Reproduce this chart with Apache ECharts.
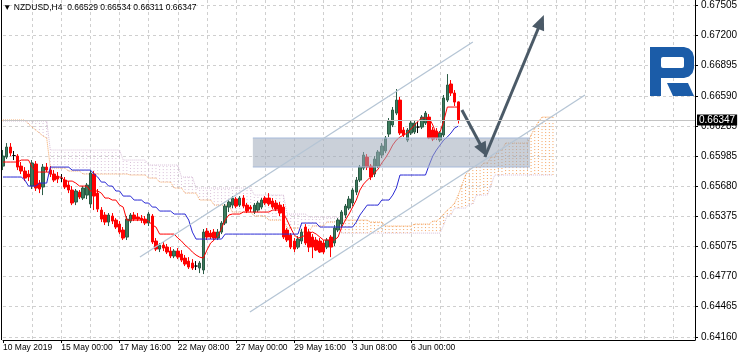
<!DOCTYPE html>
<html><head><meta charset="utf-8">
<script src="https://cdn.jsdelivr.net/npm/echarts@6/dist/echarts.min.js"></script>
<style>html,body{margin:0;padding:0;background:#fff}#c{width:742px;height:354px}</style>
</head><body><div id="c"></div>
<script>
// ---------- data ----------
const symbolName = 'NZDUSD,H4';
const xLabels = ['10 May 2019','15 May 00:00','17 May 16:00','22 May 08:00','27 May 00:00','29 May 16:00','3 Jun 08:00','6 Jun 00:00'];
const xLabelStep = 16;      // bars between time labels
const xGridStep = 8;        // bars between vertical grid lines
const slotCount = 191;      // bar slots shown on the time axis (incl. future cloud)
const yTicks = [0.64160,0.64465,0.64770,0.65075,0.65375,0.65680,0.65985,0.66285,0.66590,0.66895,0.67200,0.67505];
const yMin = 0.64130, yMax = 0.67555;

const open = [0.65882,0.65973,0.66074,0.65988,0.65983,0.65882,0.65832,0.65802,0.65681,0.65903,0.65711,0.65671,0.65872,0.65842,0.65802,0.65782,0.65761,0.65741,0.65691,0.65641,0.65520,0.65620,0.65560,0.65590,0.65500,0.65802,0.65610,0.65439,0.65389,0.65318,0.65379,0.65338,0.65298,0.65238,0.65167,0.65328,0.65389,0.65369,0.65358,0.65348,0.65308,0.65379,0.65127,0.65046,0.65086,0.65066,0.65026,0.64976,0.65026,0.64996,0.64955,0.64925,0.64905,0.64875,0.64855,0.64835,0.65227,0.65207,0.65217,0.65157,0.65217,0.65308,0.65469,0.65489,0.65550,0.65489,0.65560,0.65489,0.65469,0.65419,0.65439,0.65469,0.65560,0.65560,0.65530,0.65510,0.65489,0.65469,0.65238,0.65187,0.65127,0.65066,0.65127,0.65268,0.65217,0.65167,0.65137,0.65127,0.65107,0.65066,0.65167,0.65107,0.65238,0.65298,0.65389,0.65459,0.65510,0.65620,0.65741,0.65862,0.65973,0.65882,0.65802,0.65882,0.65993,0.66034,0.66205,0.66296,0.66416,0.66547,0.66245,0.66144,0.66215,0.66225,0.66275,0.66275,0.66316,0.66376,0.66245,0.66235,0.66144,0.66195,0.66547,0.66709,0.66618,0.66529];
const high = [0.66044,0.66114,0.66114,0.66034,0.66003,0.65923,0.65872,0.65842,0.65943,0.65933,0.65741,0.65903,0.65913,0.65882,0.65842,0.65822,0.65802,0.65772,0.65731,0.65681,0.65651,0.65641,0.65681,0.65711,0.65842,0.65832,0.65651,0.65469,0.65419,0.65409,0.65409,0.65358,0.65328,0.65268,0.65379,0.65409,0.65419,0.65409,0.65389,0.65379,0.65419,0.65399,0.65157,0.65107,0.65117,0.65097,0.65066,0.65046,0.65056,0.65036,0.64986,0.64965,0.64945,0.64925,0.64925,0.65248,0.65258,0.65238,0.65248,0.65248,0.65328,0.65500,0.65540,0.65580,0.65570,0.65580,0.65590,0.65510,0.65489,0.65510,0.65530,0.65560,0.65580,0.65610,0.65560,0.65540,0.65520,0.65500,0.65258,0.65207,0.65157,0.65177,0.65248,0.65298,0.65248,0.65197,0.65167,0.65157,0.65137,0.65157,0.65187,0.65288,0.65358,0.65439,0.65500,0.65580,0.65661,0.65772,0.65893,0.66024,0.66003,0.65903,0.65983,0.66044,0.66114,0.66185,0.66366,0.66477,0.66658,0.66578,0.66275,0.66265,0.66336,0.66346,0.66326,0.66396,0.66437,0.66406,0.66275,0.66265,0.66235,0.66598,0.66809,0.66749,0.66648,0.66534];
const low = [0.65842,0.65953,0.65983,0.65943,0.65842,0.65802,0.65731,0.65731,0.65651,0.65631,0.65610,0.65590,0.65822,0.65772,0.65721,0.65711,0.65721,0.65651,0.65610,0.65489,0.65489,0.65550,0.65540,0.65550,0.65459,0.65439,0.65419,0.65318,0.65288,0.65278,0.65298,0.65248,0.65197,0.65137,0.65137,0.65308,0.65328,0.65328,0.65308,0.65288,0.65278,0.65097,0.65026,0.65016,0.65026,0.64996,0.64955,0.64955,0.64945,0.64915,0.64875,0.64845,0.64835,0.64835,0.64804,0.64794,0.65137,0.65147,0.65137,0.65137,0.65197,0.65288,0.65419,0.65459,0.65459,0.65469,0.65459,0.65409,0.65419,0.65399,0.65419,0.65449,0.65489,0.65479,0.65449,0.65429,0.65379,0.65147,0.65117,0.65046,0.65016,0.65046,0.65097,0.65086,0.65016,0.64955,0.65026,0.65006,0.64996,0.65046,0.64965,0.65076,0.65217,0.65258,0.65358,0.65439,0.65479,0.65590,0.65721,0.65842,0.65842,0.65741,0.65772,0.65862,0.65963,0.66013,0.66175,0.66275,0.66396,0.66195,0.66175,0.66124,0.66195,0.66205,0.66215,0.66255,0.66296,0.66154,0.66134,0.66144,0.66124,0.66175,0.66527,0.66588,0.66487,0.66311];
const close = [0.65983,0.66074,0.66013,0.65988,0.65872,0.65832,0.65761,0.65772,0.65913,0.65661,0.65651,0.65872,0.65842,0.65802,0.65741,0.65751,0.65761,0.65671,0.65641,0.65510,0.65631,0.65570,0.65661,0.65691,0.65812,0.65580,0.65449,0.65348,0.65318,0.65389,0.65328,0.65268,0.65217,0.65157,0.65348,0.65389,0.65348,0.65348,0.65338,0.65308,0.65399,0.65117,0.65046,0.65086,0.65056,0.65016,0.64976,0.65026,0.64965,0.64935,0.64895,0.64865,0.64855,0.64875,0.64905,0.65217,0.65167,0.65167,0.65157,0.65217,0.65308,0.65479,0.65520,0.65560,0.65479,0.65560,0.65479,0.65429,0.65449,0.65489,0.65510,0.65540,0.65510,0.65500,0.65469,0.65449,0.65409,0.65167,0.65137,0.65066,0.65046,0.65147,0.65217,0.65107,0.65066,0.65066,0.65036,0.65016,0.65016,0.65137,0.65066,0.65258,0.65338,0.65419,0.65479,0.65550,0.65641,0.65741,0.65872,0.65993,0.65872,0.65772,0.65953,0.66024,0.66084,0.66165,0.66336,0.66447,0.66547,0.66215,0.66195,0.66245,0.66316,0.66316,0.66275,0.66376,0.66416,0.66165,0.66154,0.66165,0.66215,0.66568,0.66699,0.66618,0.66527,0.66347];

const tenkan = [0.65923,0.65923,0.65923,0.65923,0.65923,0.65943,0.65943,0.65943,0.65872,0.65822,0.65822,0.65822,0.65822,0.65822,0.65772,0.65772,0.65772,0.65731,0.65731,0.65731,0.65711,0.65681,0.65681,0.65681,0.65631,0.65631,0.65631,0.65610,0.65560,0.65560,0.65540,0.65540,0.65489,0.65469,0.65338,0.65338,0.65338,0.65338,0.65338,0.65338,0.65328,0.65288,0.65268,0.65197,0.65197,0.65197,0.65197,0.65197,0.65157,0.65127,0.65086,0.65056,0.65016,0.64986,0.64965,0.64955,0.65036,0.65107,0.65137,0.65177,0.65258,0.65338,0.65389,0.65399,0.65399,0.65399,0.65419,0.65419,0.65419,0.65419,0.65419,0.65419,0.65419,0.65419,0.65439,0.65439,0.65439,0.65409,0.65338,0.65258,0.65187,0.65157,0.65167,0.65187,0.65207,0.65217,0.65197,0.65167,0.65137,0.65137,0.65137,0.65137,0.65167,0.65268,0.65338,0.65399,0.65469,0.65540,0.65641,0.65701,0.65741,0.65772,0.65812,0.65852,0.65913,0.65963,0.66024,0.66094,0.66144,0.66175,0.66195,0.66215,0.66255,0.66296,0.66336,0.66366,0.66366,0.66366,0.66296,0.66205,0.66225,0.66336,0.66477,0.66477,0.66477,0.66477];
const kijun = [0.65772,0.65772,0.65772,0.65772,0.65772,0.65772,0.65741,0.65681,0.65681,0.65681,0.65711,0.65711,0.65711,0.65872,0.65872,0.65872,0.65872,0.65872,0.65872,0.65842,0.65842,0.65842,0.65842,0.65842,0.65842,0.65802,0.65772,0.65721,0.65721,0.65681,0.65681,0.65631,0.65631,0.65580,0.65580,0.65580,0.65540,0.65540,0.65540,0.65510,0.65510,0.65469,0.65469,0.65429,0.65429,0.65429,0.65429,0.65399,0.65399,0.65399,0.65399,0.65338,0.65217,0.65147,0.65147,0.65147,0.65147,0.65147,0.65147,0.65147,0.65147,0.65197,0.65197,0.65197,0.65197,0.65197,0.65197,0.65197,0.65197,0.65197,0.65197,0.65197,0.65197,0.65197,0.65197,0.65197,0.65197,0.65197,0.65197,0.65197,0.65197,0.65197,0.65308,0.65308,0.65308,0.65308,0.65308,0.65268,0.65268,0.65268,0.65268,0.65268,0.65268,0.65268,0.65268,0.65268,0.65268,0.65318,0.65389,0.65439,0.65489,0.65489,0.65489,0.65489,0.65540,0.65540,0.65540,0.65590,0.65661,0.65792,0.65792,0.65792,0.65792,0.65792,0.65792,0.65792,0.65792,0.65892,0.65983,0.66044,0.66094,0.66144,0.66175,0.66215,0.66265,0.66285];
const spanA = [0.66346,0.66346,0.66346,0.66346,0.66346,0.66346,0.66346,0.66306,0.66275,0.66245,0.66215,0.66185,0.66165,0.65862,0.65862,0.65862,0.65862,0.65862,0.65832,0.65832,0.65832,0.65832,0.65802,0.65802,0.65802,0.65802,0.65802,0.65802,0.65802,0.65802,0.65802,0.65802,0.65802,0.65802,0.65802,0.65792,0.65792,0.65792,0.65792,0.65792,0.65761,0.65761,0.65761,0.65721,0.65721,0.65721,0.65721,0.65661,0.65661,0.65661,0.65610,0.65610,0.65610,0.65610,0.65540,0.65540,0.65540,0.65540,0.65489,0.65489,0.65489,0.65489,0.65489,0.65419,0.65419,0.65419,0.65419,0.65419,0.65419,0.65379,0.65379,0.65379,0.65379,0.65338,0.65338,0.65338,0.65338,0.65338,0.65258,0.65258,0.65258,0.65258,0.65217,0.65217,0.65217,0.65278,0.65278,0.65278,0.65278,0.65318,0.65318,0.65318,0.65338,0.65338,0.65338,0.65338,0.65338,0.65338,0.65338,0.65338,0.65338,0.65318,0.65318,0.65318,0.65318,0.65278,0.65278,0.65278,0.65278,0.65278,0.65278,0.65278,0.65278,0.65298,0.65298,0.65298,0.65298,0.65298,0.65328,0.65328,0.65358,0.65399,0.65439,0.65469,0.65510,0.65590,0.65691,0.65792,0.65842,0.65872,0.65872,0.65872,0.65913,0.65913,0.65973,0.65973,0.66044,0.66044,0.66114,0.66114,0.66114,0.66114,0.66114,0.66114,0.66114,0.66195,0.66265,0.66326,0.66376,0.66376,0.66376,0.66376];
const spanB = [0.66336,0.66336,0.66336,0.66336,0.66336,0.66336,0.66336,0.66336,0.66336,0.66336,0.66336,0.66336,0.66336,0.66044,0.66044,0.66044,0.66044,0.66044,0.66044,0.66044,0.66044,0.66044,0.66044,0.66044,0.66044,0.66044,0.66044,0.66044,0.66044,0.66044,0.66044,0.66044,0.66044,0.65943,0.65943,0.65943,0.65943,0.65943,0.65943,0.65943,0.65893,0.65893,0.65893,0.65893,0.65893,0.65893,0.65893,0.65893,0.65893,0.65772,0.65772,0.65772,0.65772,0.65661,0.65661,0.65661,0.65661,0.65661,0.65661,0.65661,0.65661,0.65661,0.65661,0.65661,0.65661,0.65661,0.65661,0.65661,0.65661,0.65590,0.65590,0.65590,0.65590,0.65590,0.65590,0.65590,0.65590,0.65590,0.65399,0.65399,0.65399,0.65399,0.65399,0.65399,0.65369,0.65369,0.65369,0.65369,0.65369,0.65369,0.65369,0.65369,0.65369,0.65207,0.65207,0.65207,0.65207,0.65207,0.65207,0.65207,0.65207,0.65207,0.65207,0.65207,0.65207,0.65207,0.65207,0.65207,0.65207,0.65207,0.65207,0.65207,0.65207,0.65207,0.65207,0.65207,0.65207,0.65207,0.65207,0.65207,0.65207,0.65288,0.65389,0.65389,0.65459,0.65459,0.65459,0.65459,0.65500,0.65500,0.65590,0.65590,0.65590,0.65590,0.65691,0.65792,0.65792,0.65792,0.65792,0.65792,0.65792,0.65792,0.65792,0.65792,0.65792,0.65792,0.65792,0.65792,0.65792,0.65792,0.65792,0.65792];

// hand-drawn objects, in [bar, price]
const channelLines = [[[37.6,0.64966],[129.0,0.67132]], [[67.8,0.64412],[159.8,0.66598]]];
const zoneBox = [[68.6,0.66165],[144.7,0.65873]];
const arrows = [[[126.0,0.66447],[132.9,0.65974]], [[132.3,0.65974],[148.5,0.67404]]];

// ---------- chart ----------
const chart = echarts.init(document.getElementById('c'));
const slots = Array.from({length: slotCount}, (_, i) => String(i));
const candles = open.map((o, i) => [o, close[i], low[i], high[i]]);
const cloud = spanA.map((a, i) => [i, a, spanB[i]]);
const last = close.length - 1;
const FONT = 'Liberation Sans, Arial, sans-serif';
const gridColor = '#cfcfcf';

const labelShown = (i) => i % xLabelStep === 0 && i / xLabelStep < xLabels.length;

const option = {
  animation: false,
  backgroundColor: '#ffffff',
  title: {
    text: '\u25BC ' + symbolName + '  ' + [open[last], high[last], low[last], close[last]].map(v => v.toFixed(5)).join(' '),
    left: 3, top: 3, padding: 0,
    textStyle: {fontSize: 8.5, fontWeight: 'normal', color: '#000', fontFamily: FONT}
  },
  grid: {left: 3, right: 47, top: 0, bottom: 14},
  xAxis: [{
    type: 'category', data: slots, boundaryGap: false,
    axisLine: {show: true, lineStyle: {color: '#000', width: 1}},
    axisTick: {show: true, length: 3, interval: labelShown, lineStyle: {color: '#000'}},
    axisLabel: {show: true, interval: labelShown, align: 'left', margin: 3, fontSize: 8.5, color: '#000', fontFamily: FONT,
      formatter: (v) => xLabels[Number(v) / xLabelStep] || ''},
    splitLine: {show: true, interval: (i) => i % xGridStep === 0 && i > 0, lineStyle: {color: gridColor, type: [3, 3], width: 1}}
  }, {
    type: 'value', min: 0, max: slotCount - 1, show: false
  }],
  yAxis: {
    type: 'value', position: 'right', min: yMin, max: yMax,
    axisLine: {show: true, onZero: false, lineStyle: {color: '#000', width: 1}},
    axisTick: {show: true, length: 3, customValues: yTicks, lineStyle: {color: '#000'}},
    axisLabel: {customValues: yTicks, formatter: (v) => v.toFixed(5), fontSize: 10, margin: 6, color: '#000', fontFamily: FONT},
    splitLine: {show: true, lineStyle: {color: gridColor, type: [3, 3], width: 1}}
  },
  series: [
    { // cloud hatching
      type: 'custom', name: 'kumo', xAxisIndex: 0, z: 1, silent: true,
      data: cloud,
      renderItem: (params, api) => {
        const i = api.value(0);
        const pa = api.coord([i, api.value(1)]);
        const pb = api.coord([i, api.value(2)]);
        const up = api.value(1) >= api.value(2);
        return {type: 'line', shape: {x1: pa[0], y1: pa[1], x2: pb[0], y2: pb[1]},
          style: {stroke: up ? '#f4a460' : '#d8bfd8', lineWidth: 1, lineDash: [1, 2]}};
      }
    },
    {type: 'line', name: 'Senkou A', data: spanA, symbol: 'none', z: 1, silent: true,
      lineStyle: {color: '#f4a460', width: 1, type: 'dotted'}},
    {type: 'line', name: 'Senkou B', data: spanB, symbol: 'none', z: 1, silent: true,
      lineStyle: {color: '#d8bfd8', width: 1, type: 'dotted'}},
    {
      type: 'candlestick', name: symbolName, data: candles, barWidth: 3, z: 2,
      itemStyle: {color: '#3b7b5c', borderColor: '#2b5b45', color0: '#ff0000', borderColor0: '#ff0000', borderColorDoji: '#000', borderWidth: 1}
    },
    {type: 'line', name: 'Tenkan', data: tenkan, symbol: 'none', z: 3, silent: true,
      lineStyle: {color: '#ff0000', width: 1},
      markLine: {
        silent: true, symbol: 'none', z: 10, precision: 5,
        lineStyle: {color: '#c4c4c4', type: 'solid', width: 1},
        label: {show: true, position: 'end', distance: 2, formatter: () => close[last].toFixed(5),
          color: '#fff', backgroundColor: '#000', padding: [1, 2, 0, 2], fontSize: 10, fontFamily: FONT},
        emphasis: {disabled: true},
        data: [{yAxis: close[last]}]
      }
    },
    {type: 'line', name: 'Kijun', data: kijun, symbol: 'none', z: 3, silent: true,
      lineStyle: {color: '#2a2ad4', width: 1}},
    { // zone rectangle
      type: 'custom', xAxisIndex: 1, z: 4, silent: true, clip: false,
      data: [[zoneBox[0][0], zoneBox[0][1], zoneBox[1][0], zoneBox[1][1]]],
      renderItem: (params, api) => {
        const p1 = api.coord([api.value(0), api.value(1)]);
        const p2 = api.coord([api.value(2), api.value(3)]);
        return {type: 'group', children: [
          {type: 'rect', shape: {x: p1[0], y: p1[1], width: p2[0] - p1[0], height: p2[1] - p1[1]},
            style: {fill: 'rgba(158,170,186,0.55)'}},
          {type: 'line', shape: {x1: p1[0], y1: p1[1], x2: p2[0], y2: p1[1]}, style: {stroke: '#a6badb', lineWidth: 1}},
          {type: 'line', shape: {x1: p1[0], y1: p2[1], x2: p2[0], y2: p2[1]}, style: {stroke: '#a6badb', lineWidth: 1}}
        ]};
      }
    },
    { // channel lines
      type: 'custom', xAxisIndex: 1, z: 5, silent: true, clip: false,
      data: channelLines.map(s => [s[0][0], s[0][1], s[1][0], s[1][1]]),
      renderItem: (params, api) => {
        const p1 = api.coord([api.value(0), api.value(1)]);
        const p2 = api.coord([api.value(2), api.value(3)]);
        return {type: 'line', shape: {x1: p1[0], y1: p1[1], x2: p2[0], y2: p2[1]},
          style: {stroke: '#b5c5d5', lineWidth: 1.3}};
      }
    },
    { // arrows
      type: 'custom', xAxisIndex: 1, z: 6, silent: true, clip: false,
      data: arrows.map(s => [s[0][0], s[0][1], s[1][0], s[1][1]]),
      renderItem: (params, api) => {
        const p1 = api.coord([api.value(0), api.value(1)]);
        const p2 = api.coord([api.value(2), api.value(3)]);
        const dx = p2[0] - p1[0], dy = p2[1] - p1[1];
        const len = Math.sqrt(dx * dx + dy * dy);
        const ux = dx / len, uy = dy / len;
        const hl = 15, hw = 6.5;
        const bx = p2[0] - ux * hl, by = p2[1] - uy * hl;
        return {type: 'group', children: [
          {type: 'line', shape: {x1: p1[0], y1: p1[1], x2: bx + ux * 2, y2: by + uy * 2},
            style: {stroke: '#4b5a67', lineWidth: 3}},
          {type: 'polygon', shape: {points: [[p2[0], p2[1]], [bx - uy * hw, by + ux * hw], [bx + uy * hw, by - ux * hw]]},
            style: {fill: '#4b5a67'}}
        ]};
      }
    }
  ],
  graphic: [
    {type: 'line', shape: {x1: 1.5, y1: 0, x2: 1.5, y2: 340}, style: {stroke: '#000', lineWidth: 1}, z: 20},
    {type: 'polygon', z: 20, shape: {points: [[650,47],[684,47],[689,48.5],[692.5,52],[694,57],[694,68],[692.5,73],[689,76.5],[684,78],[661,78],[661,96],[650,96]]},
      style: {fill: '#1b5ca8'}},
    {type: 'rect', z: 21, shape: {x: 661, y: 57, width: 23, height: 11, r: 2}, style: {fill: '#ffffff'}},
    {type: 'polygon', z: 20, shape: {points: [[667,83],[688,83],[694,96],[673,96]]}, style: {fill: '#1b5ca8'}}
  ]
};
chart.setOption(option);
</script>
</body></html>
